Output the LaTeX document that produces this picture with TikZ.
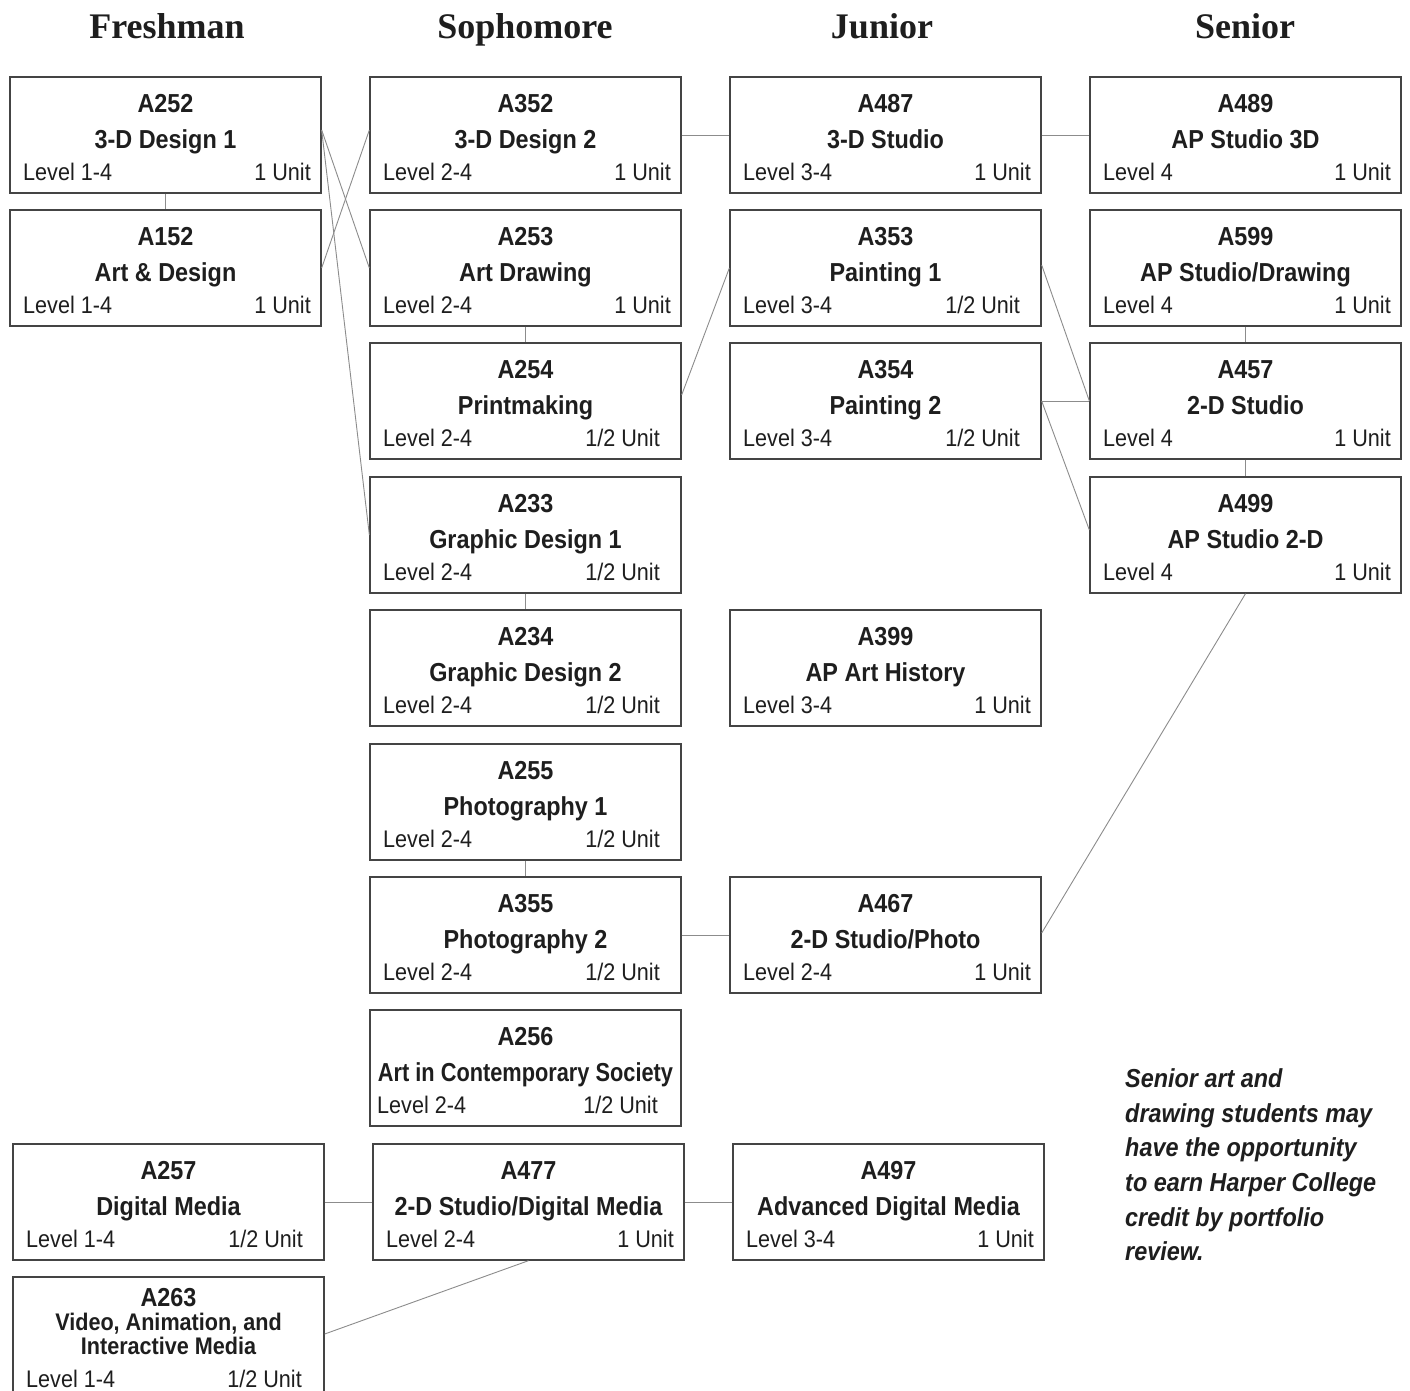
\documentclass[tikz,border=0pt]{standalone}
\usepackage{fontspec}
\usepackage{graphicx}
\setmainfont{Liberation Serif}
\newfontfamily\hsans[FakeStretch=0.9]{Liberation Sans}
\definecolor{boxline}{HTML}{444444}
\definecolor{linkcol}{HTML}{8C8C8C}
\definecolor{txt}{HTML}{1E1E1E}
\tikzset{
  cbox/.style={draw=boxline, fill=white, line width=1.3pt, rectangle, minimum width=311pt, minimum height=116pt, inner sep=0pt},
  ccode/.style={anchor=base, inner sep=0pt, text=txt, font=\hsans\bfseries\fontsize{26}{28}\selectfont},
  clev/.style={anchor=base west, inner sep=0pt, text=txt, font=\hsans\fontsize{24}{26}\selectfont},
  cunit/.style={anchor=base east, inner sep=0pt, text=txt, font=\hsans\fontsize{24}{26}\selectfont},
  yeartitle/.style={anchor=base, inner sep=0pt, text=txt, font=\bfseries\fontsize{36}{40}\selectfont},
  link/.style={draw=linkcol, line width=0.9pt},
  note/.style={anchor=base west, inner sep=0pt, text=txt, font=\hsans\bfseries\itshape\fontsize{26}{28}\selectfont}
}
\newcommand\course[8]{%
  \node[cbox] (#1) at (#2,#3+58) {};
  \node[ccode] (#1-c) at (#2,#3+35) {#4};
  \node[ccode] (#1-t) at (#2,#3+71) {#5};
  \node[clev] (#1-l) at (#2-142.5,#3+103) {#6};
  \node[cunit] (#1-u) at (#2+155.5-#8,#3+103) {#7};
}
\begin{document}
\begin{tikzpicture}[x=1pt,y=-1pt]
\clip (0,0) rectangle (1410,1390);
\fill[white] (0,0) rectangle (1410,1390);

\node[yeartitle] (t1) at (167,38) {Freshman};
\node[yeartitle] (t2) at (525,38) {Sophomore};
\node[yeartitle] (t3) at (882,38) {Junior};
\node[yeartitle] (t4) at (1245,38) {Senior};

% Freshman
\course{A252}{165.5}{77}{A252}{3-D Design 1}{Level 1-4}{1 Unit}{10}
\course{A152}{165.5}{210}{A152}{Art \& Design}{Level 1-4}{1 Unit}{10}

% Sophomore
\course{A352}{525.5}{77}{A352}{3-D Design 2}{Level 2-4}{1 Unit}{10}
\course{A253}{525.5}{210}{A253}{Art Drawing}{Level 2-4}{1 Unit}{10}
\course{A254}{525.5}{343}{A254}{Printmaking}{Level 2-4}{1/2 Unit}{21}
\course{A233}{525.5}{477}{A233}{Graphic Design 1}{Level 2-4}{1/2 Unit}{21}
\course{A234}{525.5}{610}{A234}{Graphic Design 2}{Level 2-4}{1/2 Unit}{21}
\course{A255}{525.5}{744}{A255}{Photography 1}{Level 2-4}{1/2 Unit}{21}
\course{A355}{525.5}{877}{A355}{Photography 2}{Level 2-4}{1/2 Unit}{21}

% A256 (special layout)
\node[cbox] (A256) at (525.5,1068) {};
\node[ccode] (A256-c) at (525.5,1045) {A256};
\node[ccode] (A256-t) at (525.5,1081) {\scalebox{0.93}[1]{Art in Contemporary Society}};
\node[clev] (A256-l) at (377,1113) {Level 2-4};
\node[cunit] (A256-u) at (658,1113) {1/2 Unit};

% Junior
\course{A487}{885.5}{77}{A487}{3-D Studio}{Level 3-4}{1 Unit}{10}
\course{A353}{885.5}{210}{A353}{Painting 1}{Level 3-4}{1/2 Unit}{21}
\course{A354}{885.5}{343}{A354}{Painting 2}{Level 3-4}{1/2 Unit}{21}
\course{A399}{885.5}{610}{A399}{AP Art History}{Level 3-4}{1 Unit}{10}
\course{A467}{885.5}{877}{A467}{2-D Studio/Photo}{Level 2-4}{1 Unit}{10}

% Senior
\course{A489}{1245.5}{77}{A489}{AP Studio 3D}{Level 4}{1 Unit}{10}
\course{A599}{1245.5}{210}{A599}{AP Studio/Drawing}{Level 4}{1 Unit}{10}
\course{A457}{1245.5}{343}{A457}{2-D Studio}{Level 4}{1 Unit}{10}
\course{A499}{1245.5}{477}{A499}{AP Studio 2-D}{Level 4}{1 Unit}{10}

% Bottom row
\course{A257}{168.5}{1144}{A257}{Digital Media}{Level 1-4}{1/2 Unit}{21}
\course{A477}{528.5}{1144}{A477}{2-D Studio/Digital Media}{Level 2-4}{1 Unit}{10}
\course{A497}{888.5}{1144}{A497}{Advanced Digital Media}{Level 3-4}{1 Unit}{10}

% A263 (bottom box, cut by the page edge)
\node[cbox, minimum height=128pt] (A263) at (168.5,1341) {};
\node[ccode] (A263-c) at (168.5,1306) {A263};
\node[ccode, font=\hsans\bfseries\fontsize{24}{26}\selectfont] (A263-t1) at (168.5,1330) {Video, Animation, and};
\node[ccode, font=\hsans\bfseries\fontsize{24}{26}\selectfont] (A263-t2) at (168.5,1354) {Interactive Media};
\node[clev] (A263-l) at (26,1387) {Level 1-4};
\node[cunit] (A263-u) at (302,1387) {1/2 Unit};

% Note
\node[note] (n1) at (1125,1087) {Senior art and};
\node[note] (n2) at (1125,1122) {drawing students may};
\node[note] (n3) at (1125,1156) {have the opportunity};
\node[note] (n4) at (1125,1191) {to earn Harper College};
\node[note] (n5) at (1125,1226) {credit by portfolio};
\node[note] (n6) at (1125,1260) {review.};

% Connectors
\draw[link] (A252.south) -- (A152.north);
\draw[link] ([yshift=5pt]A252.east) -- (A253.west);
\draw[link] ([yshift=5pt]A252.east) -- (A233.west);
\draw[link] (A152.east) -- ([yshift=5pt]A352.west);
\draw[link] (A352.east) -- (A487.west);
\draw[link] (A487.east) -- (A489.west);
\draw[link] (A253.south) -- (A254.north);
\draw[link] ([yshift=6pt]A254.east) -- (A353.west);
\draw[link] (A233.south) -- (A234.north);
\draw[link] (A255.south) -- (A355.north);
\draw[link] (A355.east) -- (A467.west);
\draw[link] ([yshift=2pt]A467.east) -- (A499.south);
\draw[link] ([yshift=3pt]A353.east) -- (A457.west);
\draw[link] (A354.east) -- (A457.west);
\draw[link] (A354.east) -- ([yshift=5pt]A499.west);
\draw[link] (A599.south) -- (A457.north);
\draw[link] (A457.south) -- (A499.north);
\draw[link] (A257.east) -- (A477.west);
\draw[link] (A477.east) -- (A497.west);
\draw[link] (A477.south) -- ([yshift=7pt]A263.east);
\end{tikzpicture}
\end{document}
